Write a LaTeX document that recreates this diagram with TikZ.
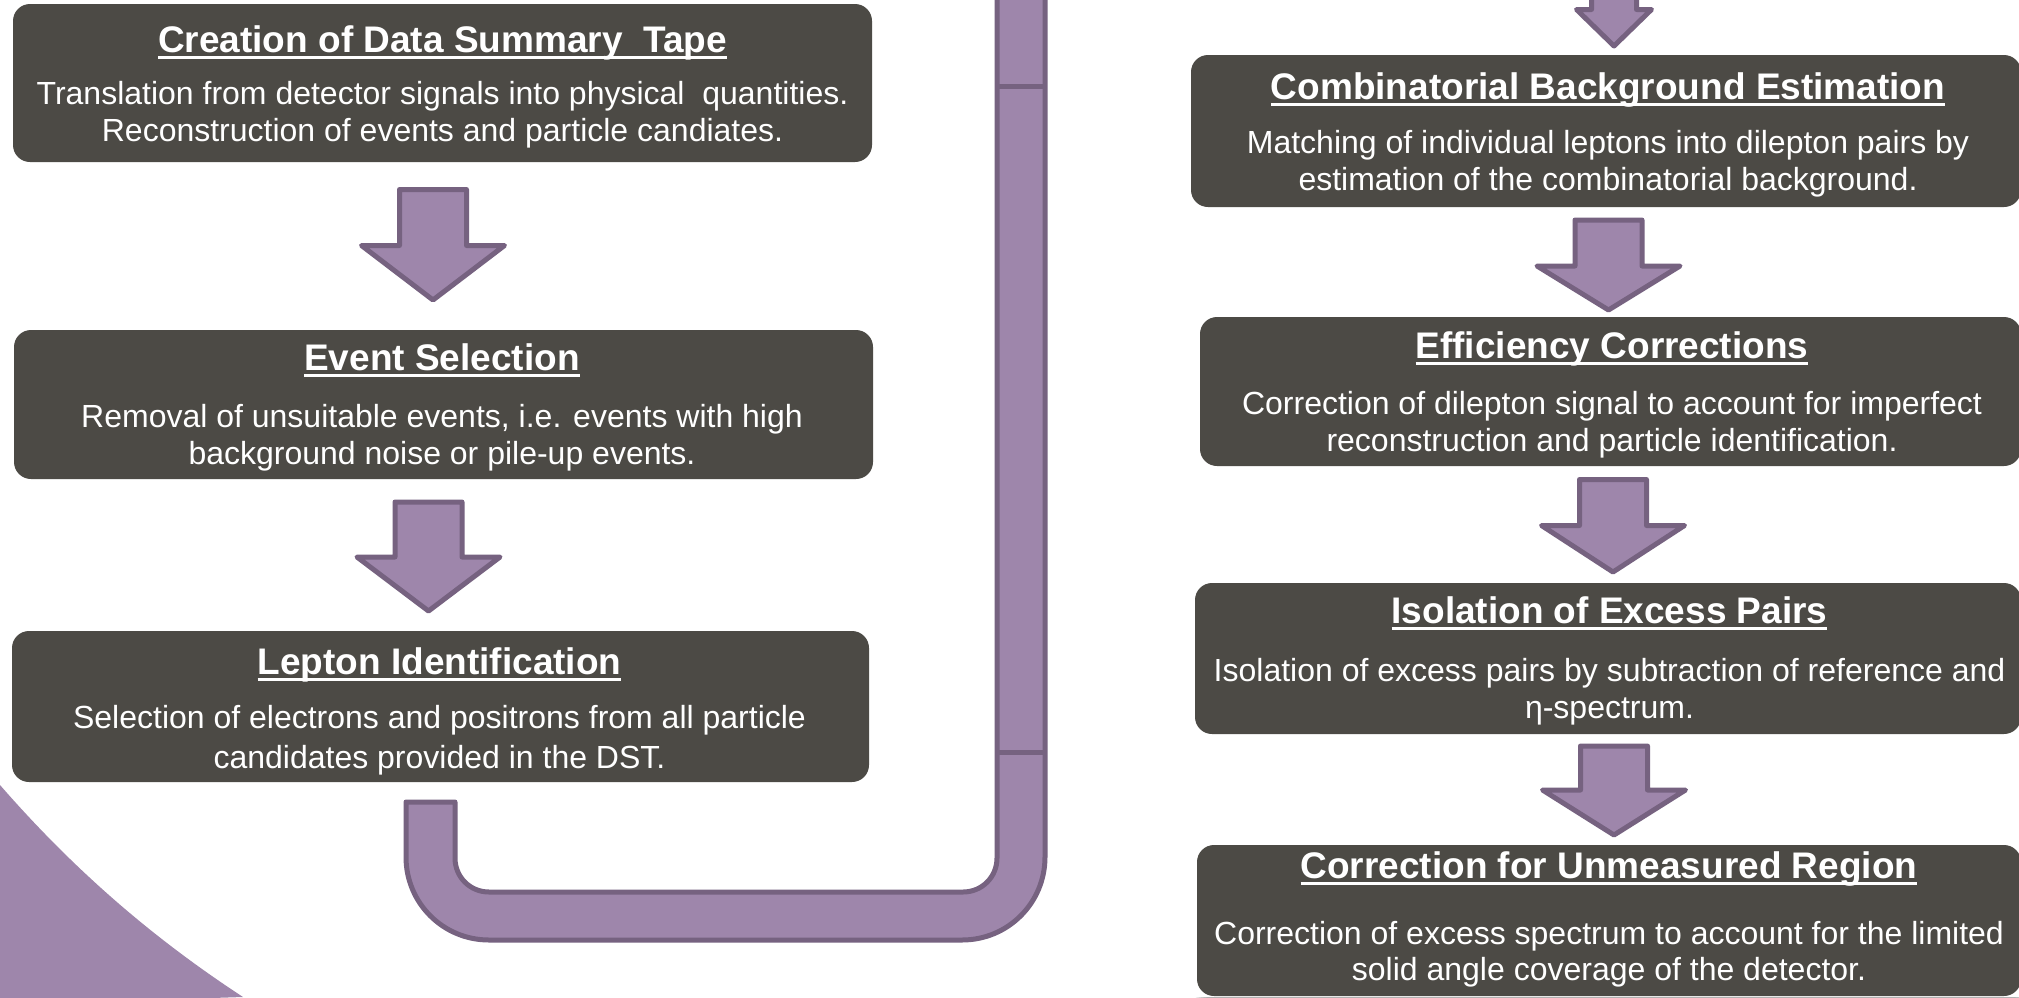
\documentclass[tikz,border=0pt]{standalone}
\usepackage{fontspec}
\setmainfont{Liberation Sans}
\usetikzlibrary{backgrounds,calc}
\definecolor{boxgray}{RGB}{76,74,69}
\definecolor{pfill}{RGB}{158,134,171}
\definecolor{pline}{RGB}{118,98,128}
\newcommand\myul[1]{\setbox0\hbox{#1}\rlap{\rule[-7pt]{\wd0}{2.8pt}}\box0}
\tikzset{
 flowbox/.style={rectangle, rounded corners=17pt, fill=boxgray, inner sep=0pt},
 titletext/.style={text=white, inner sep=0pt, anchor=base, font=\fontsize{37}{41}\selectfont\bfseries},
 bodytext/.style={text=white, inner sep=0pt, anchor=base, font=\fontsize{32}{37}\selectfont},
 blockarrow/.style={fill=pfill, draw=pline, line width=5pt, line join=round},
 pipe/.style={fill=pfill, draw=pline, line width=5pt, line join=round},
}
\newcommand\softshadow[1]{\foreach \s in {0,1.5,...,7.5}{\fill[black,opacity=0.06,rounded corners=18pt] ($(#1.south west)+(1-\s/2,4+\s)$) rectangle ($(#1.north east)+(3+\s/2,10)$);}}
% name, cx, top, shaft half width, head half width, head top, tip
\newcommand\barrow[7]{\coordinate (#1) at (#2,#3);
 \draw[blockarrow] ({#2-#4},#3) -- ({#2+#4},#3) -- ({#2+#4},#6) -- ({#2+#5},#6) -- (#2,#7) -- ({#2-#5},#6) -- ({#2-#4},#6) -- cycle;}
\begin{document}
\begin{tikzpicture}[x=1pt,y=-1pt]
\useasboundingbox (0,0) rectangle (2019,997);
\clip (0,0) rectangle (2019,997);
\fill[white] (0,0) rectangle (2019,997);
% corner decoration
\fill[pfill] (0,785) .. controls (81,878) and (162,944) .. (243,997) -- (-5,1005) -- (-5,785) -- cycle;
% pipe
\draw[pipe] (406,802) -- (406,857) .. controls (406,903) and (443,940) .. (489,940) -- (962,940)
  .. controls (1008,940) and (1045,903) .. (1045,857) -- (1045,-10) -- (997,-10) -- (997,858)
  .. controls (997,877) and (982,892) .. (963,892) -- (489,892)
  .. controls (470,892) and (455,877) .. (455,858) -- (455,802) -- cycle;
\coordinate (seg1a) at (997,86); \coordinate (seg1b) at (1045,86);
\coordinate (seg2a) at (997,752); \coordinate (seg2b) at (1045,752);
\draw[pline, line width=5pt] (seg1a) -- (seg1b);
\draw[pline, line width=5pt] (seg2a) -- (seg2b);
% boxes
\node[flowbox, minimum width=859pt, minimum height=158pt] (L1) at (442.5,83) {};
\node[flowbox, minimum width=859pt, minimum height=149pt] (L2) at (443.5,404.5) {};
\node[flowbox, minimum width=857pt, minimum height=151pt] (L3) at (440.5,706.5) {};
\node[flowbox, minimum width=830pt, minimum height=152pt] (R1) at (1606,131) {};
\node[flowbox, minimum width=821pt, minimum height=149pt] (R2) at (1610.5,391.5) {};
\node[flowbox, minimum width=826pt, minimum height=151pt] (R3) at (1608,658.5) {};
\node[flowbox, minimum width=824pt, minimum height=151pt] (R4) at (1609,920.5) {};
\begin{pgfonlayer}{background}
\softshadow{L1}\softshadow{L2}\softshadow{L3}\softshadow{R1}\softshadow{R2}\softshadow{R3}\softshadow{R4}
\end{pgfonlayer}
% texts
\node[titletext] (L1t) at (442.5,52) {\myul{Creation of Data Summary\ \ Tape}};
\node[bodytext] (L1a) at (442.5,104.5) {Translation from detector signals into physical\ \ quantities.};
\node[bodytext] (L1b) at (442.5,141.5) {Reconstruction of events and particle candiates.};
\node[titletext] (L2t) at (442,370) {\myul{Event Selection}};
\node[bodytext] (L2a) at (442,427.5) {Removal of unsuitable events, i.e. events with high};
\node[bodytext] (L2b) at (442,464.5) {background noise or pile-up events.};
\node[titletext] (L3t) at (439.5,674) {\myul{Lepton Identification}};
\node[bodytext] (L3a) at (439.5,728.5) {Selection of electrons and positrons from all particle};
\node[bodytext] (L3b) at (439.5,768.5) {candidates provided in the DST.};
\node[titletext] (R1t) at (1608,99) {\myul{Combinatorial Background Estimation}};
\node[bodytext] (R1a) at (1608,153.5) {Matching of individual leptons into dilepton pairs by};
\node[bodytext] (R1b) at (1608,190.5) {estimation of the combinatorial background.};
\node[titletext] (R2t) at (1612,358) {\myul{Efficiency Corrections}};
\node[bodytext] (R2a) at (1612,414.5) {Correction of dilepton signal to account for imperfect};
\node[bodytext] (R2b) at (1612,451.5) {reconstruction and particle identification.};
\node[titletext] (R3t) at (1609.5,623) {\myul{Isolation of Excess Pairs}};
\node[bodytext] (R3a) at (1609.5,681) {Isolation of excess pairs by subtraction of reference and};
\node[bodytext] (R3b) at (1609.5,718) {η-spectrum.};
\node[titletext] (R4t) at (1609,878) {\myul{Correction for Unmeasured Region}};
\node[bodytext] (R4a) at (1609,944) {Correction of excess spectrum to account for the limited};
\node[bodytext] (R4b) at (1609,980) {solid angle coverage of the detector.};
% block arrows
\barrow{AL1}{433}{189.5}{33.5}{71.5}{245.5}{300}
\barrow{AL2}{428.5}{502}{33.5}{71.5}{557}{611}
\barrow{AR0}{1614}{-10}{22.5}{37.5}{9.5}{46}
\barrow{AR1}{1608.5}{220}{33.5}{71.5}{266}{310}
\barrow{AR2}{1613}{479.5}{33.5}{71.5}{525.5}{572}
\barrow{AR3}{1614}{746}{33.5}{71.5}{790}{835}
\end{tikzpicture}
\end{document}
